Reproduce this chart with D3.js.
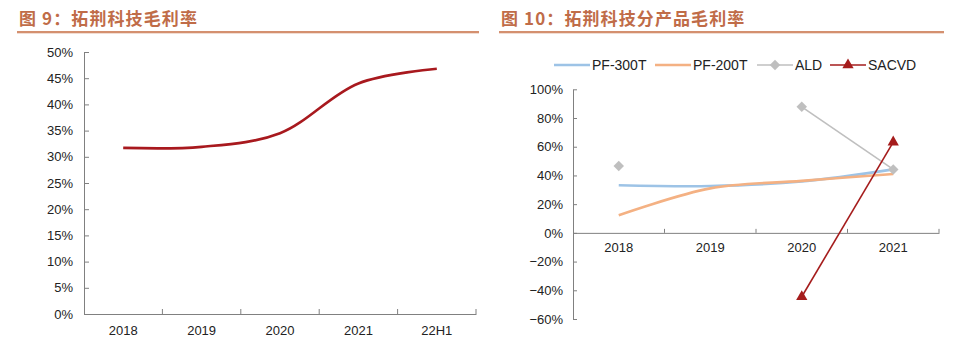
<!DOCTYPE html>
<html>
<head>
<meta charset="utf-8">
<script src="https://cdn.jsdelivr.net/npm/d3@7"></script>
<style>
  body { margin: 0; background: #fff; }
  text { font-family: Arial, "Liberation Sans", sans-serif; }
</style>
</head>
<body>
<div id="chart-area"></div>
<script>
// figure 9
var years9 = ['2018', '2019', '2020', '2021', '22H1'];
var margin9 = [0.317, 0.319, 0.345, 0.44, 0.468];
var yTicks9 = [0, 0.05, 0.1, 0.15, 0.2, 0.25, 0.3, 0.35, 0.4, 0.45, 0.5];

// figure 10
var years10 = ['2018', '2019', '2020', '2021'];
var pf300 = [0.332, 0.326, 0.358, 0.442];
var pf200 = [0.123, 0.31, 0.362, 0.41];
var ald = [0.465, null, 0.878, 0.442];
var sacvd = [null, null, -0.445, 0.632];
var yTicks10 = [-0.6, -0.4, -0.2, 0, 0.2, 0.4, 0.6, 0.8, 1];
var legendNames = ['PF-300T', 'PF-200T', 'ALD', 'SACVD'];

var titleColor = '#C06C48';
var ruleColor = '#D4906F';
var axisColor = '#808080';

var svg = d3.select('#chart-area').append('svg')
    .attr('width', 953)
    .attr('height', 354)

// titles
function title(x, x1, x2, txt) {
    svg.append('text')
        .attr('x', x)
        .attr('y', 25)
        .attr('fill', titleColor)
        .style('font-family', '"Noto Sans CJK SC", sans-serif')
        .style('font-weight', 'bold')
        .style('font-size', '17px')
        .style('letter-spacing', '1.1px')
        .text(txt)
    svg.append('rect')
        .attr('x', x1)
        .attr('y', 31)
        .attr('width', x2 - x1)
        .attr('height', 2.3)
        .attr('fill', ruleColor)
}
title(19, 17, 479, '图 9：拓荆科技毛利率')
title(501, 499, 944, '图 10：拓荆科技分产品毛利率')

// ---------- left chart ----------
var x9 = d3.scaleBand().domain(years9).range([84, 476])
var y9 = d3.scaleLinear().domain([0, 0.5]).range([314, 52])

var g9 = svg.append('g')

g9.append('g')
    .attr('transform', 'translate(84,0)')
    .call(d3.axisLeft(y9).tickValues(yTicks9).tickSizeInner(-5).tickSizeOuter(0)
        .tickPadding(11).tickFormat(d3.format('.0%')))
    .call(g => g.select('.domain').attr('stroke', axisColor))
    .call(g => g.selectAll('line').attr('stroke', axisColor))
    .call(g => g.selectAll('text').attr('fill', '#222').style('font-size', '13px'))

g9.append('g')
    .attr('transform', 'translate(0,314)')
    .call(d3.axisBottom(x9).tickSize(0).tickPadding(12))
    .call(g => g.select('.domain').attr('stroke', axisColor))
    .call(g => g.selectAll('text').attr('fill', '#222').style('font-size', '13px'))

g9.selectAll('.xtick')
    .data(years9)
    .enter()
    .append('line')
    .attr('x1', d => x9(d) + x9.bandwidth())
    .attr('x2', d => x9(d) + x9.bandwidth())
    .attr('y1', 314)
    .attr('y2', 309)
    .attr('stroke', axisColor)

var line9 = d3.line()
    .x((d, i) => x9(years9[i]) + x9.bandwidth() / 2)
    .y(d => y9(d))
    .curve(d3.curveCatmullRom)

g9.append('path')
    .datum(margin9)
    .attr('d', line9)
    .attr('fill', 'none')
    .attr('stroke', '#A8191E')
    .attr('stroke-width', 2.6)

// ---------- right chart ----------
var x10 = d3.scaleBand().domain(years10).range([573, 939])
var y10 = d3.scaleLinear().domain([-0.6, 1]).range([319, 89.3])

var g10 = svg.append('g')

g10.append('g')
    .attr('transform', 'translate(573,0)')
    .call(d3.axisLeft(y10).tickValues(yTicks10).tickSizeInner(-4).tickSizeOuter(0)
        .tickPadding(10).tickFormat(d3.format('.0%')))
    .call(g => g.select('.domain').attr('stroke', axisColor))
    .call(g => g.selectAll('line').attr('stroke', axisColor))
    .call(g => g.selectAll('text').attr('fill', '#222').style('font-size', '13px'))

g10.append('g')
    .attr('transform', 'translate(0,' + y10(0) + ')')
    .call(d3.axisBottom(x10).tickSize(0).tickPadding(10))
    .call(g => g.select('.domain').attr('stroke', axisColor))
    .call(g => g.selectAll('text').attr('fill', '#222').style('font-size', '13px'))

g10.selectAll('.xtick')
    .data(years10)
    .enter()
    .append('line')
    .attr('x1', d => x10(d) + x10.bandwidth())
    .attr('x2', d => x10(d) + x10.bandwidth())
    .attr('y1', y10(0))
    .attr('y2', y10(0) - 4)
    .attr('stroke', axisColor)

var cx10 = (d, i) => x10(years10[i]) + x10.bandwidth() / 2

var smooth10 = d3.line()
    .defined(d => d != null)
    .x(cx10)
    .y(d => y10(d))
    .curve(d3.curveCatmullRom)

var straight10 = d3.line()
    .defined(d => d != null)
    .x(cx10)
    .y(d => y10(d))

var colors = ['#9DC3E6', '#F4B183', '#BFBFBF', '#A51C1C']

g10.append('path').datum(pf300).attr('d', smooth10)
    .attr('fill', 'none').attr('stroke', colors[0]).attr('stroke-width', 2.6)
g10.append('path').datum(pf200).attr('d', smooth10)
    .attr('fill', 'none').attr('stroke', colors[1]).attr('stroke-width', 2.6)
g10.append('path').datum(ald).attr('d', straight10)
    .attr('fill', 'none').attr('stroke', colors[2]).attr('stroke-width', 1.6)
g10.append('path').datum(sacvd).attr('d', straight10)
    .attr('fill', 'none').attr('stroke', colors[3]).attr('stroke-width', 1.6)

var diamond = d3.symbol().type(d3.symbolDiamond2).size(70)
var triangle = d3.symbol().type(d3.symbolTriangle).size(55)

g10.selectAll('.ald')
    .data(ald.map((v, i) => ({v: v, i: i})).filter(d => d.v != null))
    .enter()
    .append('path')
    .attr('d', diamond)
    .attr('transform', d => 'translate(' + cx10(d.v, d.i) + ',' + y10(d.v) + ')')
    .attr('fill', colors[2])

g10.selectAll('.sacvd')
    .data(sacvd.map((v, i) => ({v: v, i: i})).filter(d => d.v != null))
    .enter()
    .append('path')
    .attr('d', triangle)
    .attr('transform', d => 'translate(' + cx10(d.v, d.i) + ',' + y10(d.v) + ')')
    .attr('fill', colors[3])

// legend
var legendX = [554, 655, 757, 830]
var leg = g10.selectAll('.leg')
    .data(legendNames)
    .enter()
    .append('g')
    .attr('transform', (d, i) => 'translate(' + legendX[i] + ',65)')

leg.append('line')
    .attr('x1', 0).attr('x2', 36)
    .attr('stroke', (d, i) => colors[i])
    .attr('stroke-width', (d, i) => i < 2 ? 2.6 : 1.6)

leg.filter((d, i) => i == 2).append('path')
    .attr('d', diamond).attr('transform', 'translate(18,0)').attr('fill', colors[2])
leg.filter((d, i) => i == 3).append('path')
    .attr('d', triangle).attr('transform', 'translate(18,0)').attr('fill', colors[3])

leg.append('text')
    .attr('x', 38)
    .attr('dy', '0.35em')
    .attr('fill', '#222')
    .style('font-size', '14px')
    .text(d => d)
</script>
</body>
</html>
